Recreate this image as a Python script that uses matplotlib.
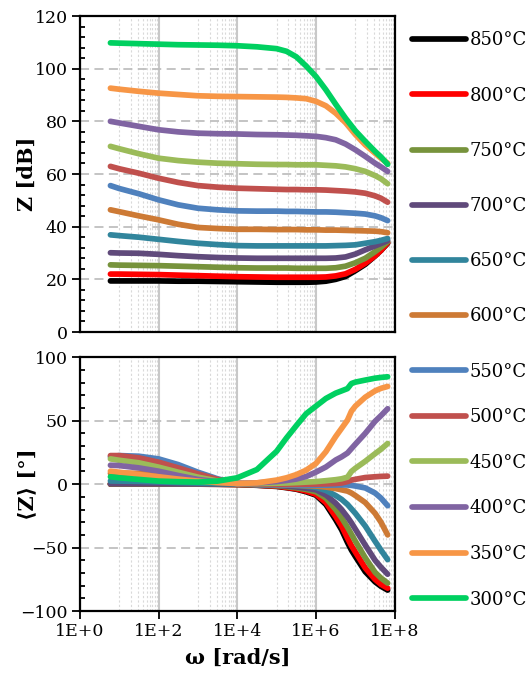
import numpy as np
import matplotlib
matplotlib.use('Agg')
import matplotlib.pyplot as plt
from matplotlib.ticker import FixedLocator, NullFormatter, FuncFormatter

plt.rcParams['font.family'] = ['DejaVu Serif', 'DejaVu Sans']

temps = ['850°C', '800°C', '750°C', '700°C', '650°C', '600°C',
         '550°C', '500°C', '450°C', '400°C', '350°C', '300°C']
colors = ['#000000', '#FF0000', '#77933C', '#604A7B', '#31859C', '#CD7A35',
          '#4F81BD', '#C0504D', '#9BBB59', '#8064A2', '#F79646', '#00D060']

# angular frequency [rad/s] for the magnitude curves
omega_mag = [6, 10, 31.6, 100, 316, 1e3, 3.16e3, 1e4, 3.16e4, 1e5, 1.78e5, 3.16e5,
             5.62e5, 1e6, 1.78e6, 3.16e6, 5.62e6, 1e7, 1.78e7, 3.16e7, 4.47e7, 6.6e7]

mag_850 = [19.4, 19.4, 19.4, 19.4, 19.3, 19.3, 19.2, 19.1, 19.0, 18.9, 18.9, 18.9, 18.9, 19.0, 19.3, 20.0, 21.1, 23.3, 25.7, 28.9, 31.0, 33.7]
mag_800 = [22.0, 22.0, 21.9, 21.8, 21.6, 21.4, 21.2, 21.0, 20.9, 20.8, 20.8, 20.8, 20.8, 20.8, 20.9, 21.3, 22.1, 23.8, 26.1, 28.9, 31.0, 33.9]
mag_750 = [25.5, 25.4, 25.3, 25.2, 25.0, 24.8, 24.6, 24.4, 24.3, 24.3, 24.3, 24.2, 24.2, 24.2, 24.2, 24.4, 25.0, 26.3, 28.0, 30.5, 32.2, 34.3]
mag_700 = [30.1, 30.0, 29.9, 29.5, 29.0, 28.6, 28.3, 28.1, 28.0, 28.0, 28.0, 28.0, 28.0, 28.0, 28.0, 28.1, 28.5, 29.6, 31.2, 32.7, 33.6, 34.7]
mag_650 = [36.9, 36.6, 36.0, 35.2, 34.4, 33.7, 33.2, 32.8, 32.7, 32.7, 32.7, 32.7, 32.7, 32.7, 32.7, 32.8, 32.9, 33.1, 33.7, 34.3, 34.8, 35.5]
mag_600 = [46.4, 45.7, 44.1, 42.6, 40.9, 39.7, 39.3, 39.0, 39.0, 38.9, 38.9, 38.9, 38.8, 38.8, 38.7, 38.7, 38.6, 38.5, 38.4, 38.3, 38.1, 37.7]
mag_550 = [55.6, 54.5, 52.5, 50.2, 48.3, 47.0, 46.4, 46.0, 45.9, 45.9, 45.8, 45.8, 45.7, 45.6, 45.6, 45.5, 45.3, 45.1, 44.8, 44.1, 43.4, 42.3]
mag_500 = [62.9, 62.0, 60.3, 58.4, 56.8, 55.6, 55.0, 54.6, 54.4, 54.2, 54.1, 54.1, 54.0, 54.0, 53.9, 53.7, 53.5, 53.2, 52.7, 51.7, 50.8, 49.3]
mag_450 = [70.5, 69.6, 67.7, 66.0, 65.1, 64.5, 64.1, 63.9, 63.7, 63.6, 63.6, 63.5, 63.5, 63.5, 63.3, 63.1, 62.7, 62.0, 61.0, 59.4, 58.2, 56.3]
mag_400 = [80.0, 79.4, 78.1, 76.8, 76.0, 75.5, 75.3, 75.2, 75.0, 74.9, 74.8, 74.7, 74.5, 74.3, 73.8, 73.0, 71.4, 69.2, 66.7, 64.1, 62.7, 61.0]
mag_350 = [92.6, 92.2, 91.4, 90.7, 90.2, 89.7, 89.5, 89.4, 89.3, 89.2, 89.1, 88.9, 88.6, 87.6, 85.9, 83.1, 79.5, 75.0, 71.1, 67.9, 66.0, 64.1]
mag_300 = [109.8, 109.7, 109.5, 109.3, 109.1, 109.0, 108.9, 108.7, 108.3, 107.6, 106.6, 104.5, 101.0, 97.0, 92.0, 86.5, 81.2, 76.4, 72.4, 68.6, 66.5, 63.7]

# angular frequency [rad/s] for the phase curves
omega_ph = [6, 10, 31.6, 100, 316, 1e3, 3.16e3, 1e4, 3.16e4, 1e5, 1.78e5, 3.16e5,
            5.62e5, 1e6, 1.78e6, 3.16e6, 4.47e6, 6.31e6, 7.94e6, 1e7, 1.78e7, 3.16e7, 4.47e7, 6.6e7]

ph_850 = [0.0, 0.0, 0.0, 0.0, 0.0, 0.0, -0.1, -0.3, -0.9, -1.8, -2.8, -4.0, -6.0, -8.7, -16.0, -28.0, -36.0, -46.0, -52.0, -57.0, -69.0, -77.0, -80.5, -83.5]
ph_800 = [0.1, 0.1, 0.1, 0.1, 0.1, 0.0, -0.1, -0.3, -0.8, -1.6, -2.6, -3.7, -5.5, -8.0, -14.5, -25.5, -33.0, -42.5, -48.5, -53.5, -66.0, -75.0, -79.0, -82.0]
ph_750 = [0.2, 0.2, 0.2, 0.2, 0.1, 0.1, 0.0, -0.2, -0.6, -1.2, -2.0, -2.9, -4.2, -6.0, -11.0, -20.0, -26.5, -34.0, -39.5, -45.0, -58.0, -69.5, -74.0, -78.0]
ph_700 = [0.3, 0.3, 0.3, 0.3, 0.2, 0.2, 0.1, 0.0, -0.4, -0.9, -1.5, -2.2, -3.2, -4.5, -8.5, -15.0, -20.0, -26.0, -30.5, -35.5, -48.0, -60.0, -65.5, -71.0]
ph_650 = [2.5, 2.4, 2.2, 1.8, 1.3, 0.9, 0.5, 0.2, -0.1, -0.4, -0.7, -1.1, -1.7, -2.5, -5.0, -9.0, -12.0, -16.0, -19.5, -23.0, -33.0, -45.0, -52.0, -59.5]
ph_600 = [8.5, 8.7, 8.5, 7.5, 6.0, 4.2, 2.2, 0.5, -0.2, -0.5, -0.7, -0.9, -1.2, -1.5, -2.3, -3.5, -4.5, -5.5, -7.0, -9.0, -14.5, -23.0, -30.0, -40.0]
ph_550 = [21.5, 22.5, 22.0, 19.9, 15.4, 9.4, 4.2, 0.5, -0.3, -0.5, -0.5, -0.6, -0.7, -0.8, -0.8, -0.7, -0.6, -0.7, -1.0, -1.5, -3.0, -7.0, -11.0, -17.0]
ph_500 = [22.5, 22.5, 20.7, 17.3, 12.8, 8.1, 3.7, 0.5, 0.2, 0.0, 0.0, 0.0, 0.0, 0.0, 0.2, 0.5, 0.9, 2.0, 3.2, 3.8, 5.2, 5.8, 6.1, 6.3]
ph_450 = [19.9, 18.8, 16.8, 13.4, 9.4, 5.5, 2.4, 0.5, 0.5, 0.7, 0.9, 1.2, 1.6, 2.0, 2.7, 3.5, 4.2, 5.5, 10.0, 12.5, 18.0, 24.0, 27.5, 32.0]
ph_400 = [14.9, 14.6, 12.8, 10.2, 6.8, 3.7, 1.8, 0.5, 1.0, 2.0, 2.9, 4.0, 6.0, 9.5, 13.5, 19.0, 21.5, 24.5, 28.0, 31.5, 40.0, 49.5, 54.0, 59.4]
ph_350 = [10.2, 9.4, 7.6, 5.8, 4.0, 2.4, 1.2, 0.5, 1.0, 3.2, 5.0, 7.5, 11.0, 16.3, 25.5, 37.5, 44.0, 50.5, 57.5, 61.5, 68.5, 73.5, 75.5, 77.0]
ph_300 = [5.8, 5.0, 3.7, 2.4, 1.9, 1.6, 2.4, 5.0, 11.5, 25.9, 36.4, 46.1, 55.5, 61.5, 67.5, 71.7, 73.5, 75.3, 79.3, 80.4, 82.0, 83.5, 84.1, 84.6]

mags = [mag_850, mag_800, mag_750, mag_700, mag_650, mag_600,
        mag_550, mag_500, mag_450, mag_400, mag_350, mag_300]
phases = [ph_850, ph_800, ph_750, ph_700, ph_650, ph_600,
          ph_550, ph_500, ph_450, ph_400, ph_350, ph_300]

x_major = [1, 1e2, 1e4, 1e6, 1e8]
x_minor = [m * 10 * 100 ** k for k in range(4) for m in range(1, 10)]

fig = plt.figure(figsize=(5.32, 6.84), dpi=100)
ax1 = fig.add_axes([0.150, 0.5146, 0.592, 0.462])
ax2 = fig.add_axes([0.150, 0.1067, 0.592, 0.371])


def style(ax):
    ax.set_xscale('log')
    ax.set_xlim(1, 1e8)
    ax.xaxis.set_major_locator(FixedLocator(x_major))
    ax.xaxis.set_minor_locator(FixedLocator(x_minor))
    ax.xaxis.set_minor_formatter(NullFormatter())
    ax.xaxis.set_major_formatter(FuncFormatter(lambda v, p: '1E+%d' % round(np.log10(v))))
    ax.grid(which='major', axis='x', color='#C8C8C8', lw=1.5, ls='-')
    ax.grid(which='minor', axis='x', color='#D9D9D9', lw=0.8, ls=(0, (2, 2)))
    ax.grid(which='major', axis='y', color='#BFBFBF', lw=1.3, ls=(0, (5, 3)))
    ax.set_axisbelow(True)
    ax.tick_params(axis='x', which='minor', length=0)
    ax.tick_params(axis='y', which='minor', direction='in', length=3.5, width=1.3)
    ax.tick_params(axis='both', which='major', direction='out', length=5.5, width=1.3,
                   pad=3, labelsize=12.5, colors='black')
    for s in ax.spines.values():
        s.set_linewidth(1.6)


style(ax1)
style(ax2)

lines1 = []
lines2 = []
for t, c, m, p in zip(temps, colors, mags, phases):
    l1, = ax1.plot(omega_mag, m, color=c, lw=4.1, solid_capstyle='round', solid_joinstyle='round', label=t)
    l2, = ax2.plot(omega_ph, p, color=c, lw=4.1, solid_capstyle='round', solid_joinstyle='round', label=t)
    lines1.append(l1)
    lines2.append(l2)

ax1.set_ylim(0, 120)
ax1.set_yticks(range(0, 121, 20))
ax1.set_yticks(range(0, 121, 4), minor=True)
ax1.tick_params(axis='x', labelbottom=False, length=0)

ax2.set_ylim(-100, 100)
ax2.set_yticks(range(-100, 101, 50))
ax2.set_yticks(range(-100, 101, 10), minor=True)

ax1.set_ylabel('Z [dB]', fontsize=15, fontweight='bold')
ax2.set_ylabel('⟨Z⟩ [°]', fontsize=15, fontweight='bold')
ax1.yaxis.set_label_coords(-0.135, 0.5)
ax2.yaxis.set_label_coords(-0.135, 0.5)
ax2.set_xlabel('ω [rad/s]', fontsize=15, fontweight='bold')
ax2.xaxis.set_label_coords(0.5, -0.145)

fig.legend(lines1[:6], temps[:6], loc='upper left', bbox_to_anchor=(0.7744, 0.954),
           frameon=False, fontsize=13, handlelength=3.0, handletextpad=0.2,
           labelspacing=2.06, borderpad=0, borderaxespad=0)
fig.legend(lines2[6:], temps[6:], loc='upper left', bbox_to_anchor=(0.7744, 0.470),
           frameon=False, fontsize=13, handlelength=3.0, handletextpad=0.2,
           labelspacing=1.53, borderpad=0, borderaxespad=0)

fig.savefig('out.png', dpi=100)
